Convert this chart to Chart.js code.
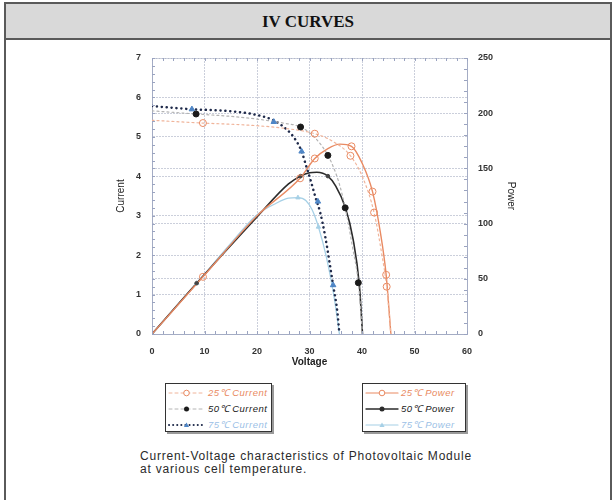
<!DOCTYPE html>
<html>
<head>
<meta charset="utf-8">
<script src="https://cdn.jsdelivr.net/npm/chart.js@4.4.1/dist/chart.umd.min.js"></script>
<style>
body{margin:0;background:#fff;width:614px;height:500px;overflow:hidden;position:relative;font-family:"Liberation Sans",Arial,sans-serif}
#frame{position:absolute;left:4px;top:2px;width:604px;height:500px;border:2px solid #5a5a5a;border-bottom:none}
#title{position:absolute;left:0;top:0;width:604px;height:34px;background:#d9d9d9;border-bottom:2px solid #5a5a5a;font:bold 17px "Liberation Serif","Times New Roman",serif;text-align:center;line-height:36px;color:#111}
#wrap{position:absolute;left:0;top:40px;width:614px;height:340px}
.leg{position:absolute;top:383px;height:47px;border:1px solid #333;box-shadow:2px 2px 0 #9a9a9a;background:#fff}
.row{position:absolute;left:0;height:16px;white-space:nowrap;font:italic 9.5px "Liberation Sans",Arial,sans-serif;letter-spacing:0.5px;line-height:16px}
.row svg{position:absolute;left:0;top:0}
.row span{position:absolute;top:0}
#cap{position:absolute;left:140px;top:450px;font:12px "Liberation Sans",Arial,sans-serif;letter-spacing:0.8px;color:#2a2a2a;line-height:13px}
</style>
</head>
<body>
<div id="frame"><div id="title">IV CURVES</div></div>
<div id="wrap"><canvas id="iv"></canvas></div>
<div class="leg" id="leg1" style="left:165px;width:105px"></div>
<div class="leg" id="leg2" style="left:362px;width:102px"></div>
<div id="cap">Current-Voltage characteristics of Photovoltaic Module<br>at various cell temperature.</div>
<script>
// current curves (A)
var v25c = [0, 9.7, 18, 25, 31, 34.5, 37.8, 40.2, 42.3, 43.8, 44.7, 45.5];
var i25c = [5.42, 5.35, 5.3, 5.22, 5.08, 4.88, 4.52, 3.95, 3.08, 2.0, 1.2, 0];
var v50c = [0, 8.4, 15, 20, 25, 28.3, 30.5, 32.3, 33.5, 34.5, 35.7, 36.8, 38.2, 39.3, 40.1];
var i50c = [5.66, 5.58, 5.52, 5.45, 5.35, 5.25, 5.05, 4.78, 4.53, 4.25, 3.8, 3.2, 2.2, 1.3, 0];
var v75c = [0, 7.6, 14, 19, 23.2, 24.9, 26.9, 28.5, 29.3, 30.1, 31.2, 32.0, 33.0, 34.5, 35.3, 35.7];
var i75c = [5.78, 5.7, 5.66, 5.58, 5.42, 5.27, 5.01, 4.63, 4.29, 3.95, 3.44, 3.1, 2.47, 1.24, 0.57, 0];

// power curves (W)
var v25p = [0, 9.7, 20, 28.2, 31, 33.5, 35.8, 38, 40, 42, 43.5, 44.6, 45.5];
var p25 = [0, 51.8, 107, 141, 159, 168, 172, 170, 155, 129, 92, 53.6, 0];
var v50p = [0, 8.5, 20, 26, 28.3, 30, 31.4, 33.5, 35, 36.8, 38.3, 39.5, 40.1];
var p50 = [0, 46, 106, 136, 143, 146, 146.5, 143, 134, 115, 86, 44, 0];
var v75p = [0, 8.5, 15, 20, 23.5, 26, 27.8, 29.3, 30.5, 31.7, 33.2, 34.6, 35.7];
var p75 = [0, 46, 82, 108, 118, 123, 123.5, 121, 112.5, 97, 70, 36, 0];

// measured markers
var v25cM = [9.7, 31, 37.8, 42.3, 44.7];
var i25cM = [5.35, 5.08, 4.52, 3.08, 1.2];
var v50cM = [8.4, 28.3, 33.5, 36.8, 39.3];
var i50cM = [5.58, 5.25, 4.53, 3.2, 1.3];
var v75cM = [7.6, 23.2, 28.5, 31.6, 34.5];
var i75cM = [5.7, 5.38, 4.63, 3.36, 1.24];
var v25pM = [9.7, 28.2, 31, 38, 42, 44.6];
var p25M = [51.8, 141, 159, 170, 129, 53.6];
var v50pM = [8.5, 28.3, 33.5];
var p50M = [46, 143, 143];
var v75pM = [8.5, 27.8, 31.7];
var p75M = [46, 123.5, 97];

var xTicks = [0, 10, 20, 30, 40, 50, 60];

var orange = "#e98a62", orangeLt = "#f0b49a", black = "#1a1a1a", grayLt = "#b4b4b4",
    navy = "#1f2a4a", blue = "#4f86c6", blueLt = "#a6d0e6";

function xy(xs, ys){
    return xs.map(function(x, k){ return {x: x, y: ys[k]}; });
}

function curve(xs, ys, axis, color, width, dash){
    return {
        data: xy(xs, ys), yAxisID: axis, showLine: true, borderColor: color, borderWidth: width,
        borderDash: dash || [], borderCapStyle: "round", pointRadius: 0,
        cubicInterpolationMode: "monotone", fill: false
    };
}

function marks(xs, ys, axis, style, r, fillC, lineC){
    return {
        data: xy(xs, ys), yAxisID: axis, showLine: false, pointStyle: style,
        pointRadius: r, pointBackgroundColor: fillC, pointBorderColor: lineC, pointBorderWidth: 1
    };
}

var minorTicks = {
    id: "minorTicks",
    afterDraw: function(chart){
        var ctx = chart.ctx, a = chart.chartArea, s = chart.scales;
        ctx.save();
        ctx.strokeStyle = "#9aa3c0";
        ctx.lineWidth = 1;
        ctx.beginPath();
        for (var v = 0; v <= 60; v += 2) {
            var px = Math.round(s.x.getPixelForValue(v)) + 0.5;
            ctx.moveTo(px, a.bottom); ctx.lineTo(px, a.bottom - 3);
            ctx.moveTo(px, a.top); ctx.lineTo(px, a.top + 3);
        }
        for (var k = 0; k <= 35; k++) {
            var py = Math.round(s.y.getPixelForValue(k * 0.2)) + 0.5;
            ctx.moveTo(a.left, py); ctx.lineTo(a.left + 3, py);
        }
        for (var w = 0; w <= 250; w += 10) {
            var py2 = Math.round(s.y2.getPixelForValue(w)) + 0.5;
            ctx.moveTo(a.right, py2); ctx.lineTo(a.right - 3, py2);
        }
        ctx.stroke();
        ctx.restore();
    }
};

var tickFont = {family: "'Liberation Sans', Arial, sans-serif", size: 9, weight: "bold"};
var gridC = "rgba(160,168,190,0.55)";

new Chart(document.getElementById("iv"), {
    type: "scatter",
    data: {
        datasets: [
            marks(v25cM, i25cM, "y", "circle", 3.5, "rgba(255,255,255,0)", orange),
            marks(v50cM, i50cM, "y", "circle", 3, black, black),
            marks(v75cM, i75cM, "y", "triangle", 3.2, blue, blue),
            marks(v25pM, p25M, "y2", "circle", 3.5, "rgba(255,255,255,0)", orange),
            marks(v50pM, p50M, "y2", "circle", 1.8, "#444", "#444"),
            marks(v75pM, p75M, "y2", "triangle", 2.5, blueLt, blueLt),
            curve(v25c, i25c, "y", orangeLt, 1.2, [2, 3]),
            curve(v50c, i50c, "y", grayLt, 1.2, [2, 3]),
            curve(v75c, i75c, "y", navy, 2.5, [0.1, 4.8]),
            curve(v25p, p25, "y2", orange, 1.4),
            curve(v50p, p50, "y2", "#2b2b2b", 1.6),
            curve(v75p, p75, "y2", blueLt, 1.3)
        ]
    },
    options: {
        responsive: true,
        maintainAspectRatio: false,
        animation: false,
        layout: {padding: {left: 107, right: 97, top: 18, bottom: 12}},
        plugins: {legend: {display: false}, tooltip: {enabled: false}},
        scales: {
            x: {
                type: "linear", min: 0, max: 60,
                afterBuildTicks: function(s){ s.ticks = xTicks.map(function(v){ return {value: v}; }); },
                afterFit: function(s){ s.height = 34; },
                ticks: {font: tickFont, color: "#333", padding: 12},
                grid: {color: gridC, drawTicks: false, tickBorderDash: [2, 1]},
                border: {color: "#a4acc4", dash: [2, 1]},
                title: {display: true, text: "Voltage", color: "#222", padding: 0,
                        font: {family: "'Liberation Sans', Arial, sans-serif", size: 10, weight: "bold"}}
            },
            y: {
                position: "left", min: 0, max: 7,
                afterFit: function(s){ s.width = 45; },
                ticks: {stepSize: 1, font: tickFont, color: "#333", padding: 11},
                grid: {color: gridC, drawTicks: false},
                border: {color: "#a4acc4", dash: [2, 1]},
                title: {display: true, text: "Current", color: "#222", padding: {top: 8, bottom: 0},
                        font: {family: "'Liberation Sans', Arial, sans-serif", size: 10}}
            },
            y2: {
                position: "right", min: 0, max: 250,
                afterFit: function(s){ s.width = 50; },
                ticks: {stepSize: 50, font: tickFont, color: "#333", padding: 11},
                grid: {color: gridC, drawTicks: false},
                border: {color: "#a4acc4", dash: [2, 1]},
                title: {display: true, text: "Power", color: "#222", padding: 0,
                        font: {family: "'Liberation Sans', Arial, sans-serif", size: 10}}
            }
        }
    },
    plugins: [minorTicks]
});

// legend boxes
var legCurrent = [
    {label: "25\u2103 Current", text: orange, line: orangeLt, dash: "3 3", w: 1, mk: "ocircle", mc: orange},
    {label: "50\u2103 Current", text: black, line: grayLt, dash: "3 3", w: 1, mk: "dot", mc: black},
    {label: "75\u2103 Current", text: "#9cbfe6", line: navy, dash: "0.1 4", w: 2, mk: "tri", mc: blue}
];
var legPower = [
    {label: "25\u2103 Power", text: orange, line: orange, dash: "", w: 1.2, mk: "ocircle", mc: orange},
    {label: "50\u2103 Power", text: black, line: "#2b2b2b", dash: "", w: 1.4, mk: "dot", mc: "#2b2b2b"},
    {label: "75\u2103 Power", text: "#9cbfe6", line: blueLt, dash: "", w: 1.2, mk: "tri", mc: blueLt}
];

function marker(m, cx){
    if (m.mk === "ocircle") return '<circle cx="' + cx + '" cy="8" r="2.8" fill="#fff" stroke="' + m.mc + '" stroke-width="1"/>';
    if (m.mk === "dot") return '<circle cx="' + cx + '" cy="8" r="2.5" fill="' + m.mc + '"/>';
    return '<polygon points="' + (cx - 2.6) + ',10 ' + (cx + 2.6) + ',10 ' + cx + ',5.5" fill="' + m.mc + '"/>';
}

function fillLegend(id, items, lineW, textX){
    var box = document.getElementById(id), html = "";
    items.forEach(function(m, k){
        html += '<div class="row" style="top:' + (1 + k * 16) + 'px;width:100%">' +
            '<svg width="' + (lineW + 4) + '" height="16"><line x1="3" y1="8" x2="' + lineW + '" y2="8" stroke="' + m.line +
            '" stroke-width="' + m.w + '" stroke-linecap="round"' + (m.dash ? ' stroke-dasharray="' + m.dash + '"' : '') + '/>' +
            marker(m, (3 + lineW) / 2) + '</svg>' +
            '<span style="left:' + textX + 'px;color:' + m.text + '">' + m.label + '</span></div>';
    });
    box.innerHTML = html;
}
fillLegend("leg1", legCurrent, 38, 42);
fillLegend("leg2", legPower, 35, 38);
</script>
</body>
</html>
